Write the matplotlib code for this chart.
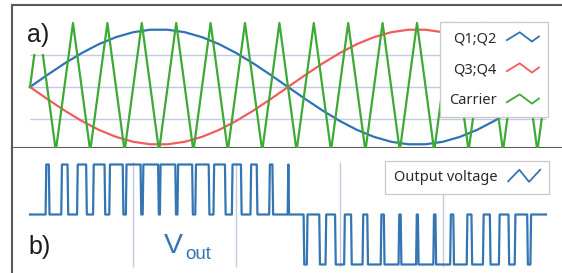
import matplotlib
matplotlib.use("Agg")
import matplotlib.pyplot as plt
from matplotlib.legend_handler import HandlerLine2D
from matplotlib.lines import Line2D

# ---------------- data (time in carrier periods; one modulation period = 15) ----------------
t_mod = [0.0, 0.5, 1.0, 1.5, 2.0, 2.5, 3.0, 3.5, 4.0, 4.5, 5.0, 5.5, 6.0, 6.5, 7.0, 7.5,
         8.0, 8.5, 9.0, 9.5, 10.0, 10.5, 11.0, 11.5, 12.0, 12.5, 13.0, 13.5, 14.0, 14.5, 15.0]
q12 = [0.0, 0.187, 0.366, 0.529, 0.669, 0.779, 0.856, 0.895, 0.895, 0.856, 0.779, 0.669, 0.529,
       0.366, 0.187, 0.0, -0.187, -0.366, -0.529, -0.669, -0.779, -0.856, -0.895, -0.895, -0.856,
       -0.779, -0.669, -0.529, -0.366, -0.187, 0.0]
q34 = [0.0, -0.187, -0.366, -0.529, -0.669, -0.779, -0.856, -0.895, -0.895, -0.856, -0.779, -0.669,
       -0.529, -0.366, -0.187, 0.0, 0.187, 0.366, 0.529, 0.669, 0.779, 0.856, 0.895, 0.895, 0.856,
       0.779, 0.669, 0.529, 0.366, 0.187, 0.0]
carrier_t = [0.0, 0.25, 0.75, 1.25, 1.75, 2.25, 2.75, 3.25, 3.75, 4.25, 4.75, 5.25, 5.75, 6.25,
             6.75, 7.25, 7.75, 8.25, 8.75, 9.25, 9.75, 10.25, 10.75, 11.25, 11.75, 12.25, 12.75,
             13.25, 13.75, 14.25, 14.75, 15.0]
carrier_v = [0, 1, -1, 1, -1, 1, -1, 1, -1, 1, -1, 1, -1, 1, -1, 1,
             -1, 1, -1, 1, -1, 1, -1, 1, -1, 1, -1, 1, -1, 1, -1, 0]
# output voltage pulses (switching instants)
pos_start = [0.453, 0.909, 1.368, 1.833, 2.305, 2.786, 3.276, 3.776, 4.286, 4.805, 5.333, 5.868,
             6.409, 6.953, 7.49]
pos_end = [0.547, 1.091, 1.632, 2.167, 2.695, 3.214, 3.724, 4.224, 4.714, 5.195, 5.667, 6.132,
           6.591, 7.047, 7.51]
neg_start = [7.953, 8.409, 8.868, 9.333, 9.805, 10.286, 10.776, 11.276, 11.786, 12.305, 12.833,
             13.368, 13.909, 14.453]
neg_end = [8.047, 8.591, 9.132, 9.667, 10.195, 10.714, 11.224, 11.724, 12.214, 12.695, 13.167,
           13.632, 14.091, 14.547]
t_end = 15.0
hgrid_levels = [-0.5, 0.0, 0.5]
vgrid_t = [3, 6, 9, 12]
labels_top = ["Q1;Q2", "Q3;Q4", "Carrier"]
label_bottom = "Output voltage"

# ---------------- styling ----------------
BLUE = "#2f72b6"
RED = "#f25c5c"
GREEN = "#3caa34"
OUTBLUE = "#3475b4"
GRID = "#c6c9e2"
SPINE = "#5a5a5a"
W, H = 562, 273
X0, PXU = 30.0, 34.4  # pixel of t=0, pixels per unit

fig = plt.figure(figsize=(W / 100, H / 100), dpi=100)


def px_axes(l, t, r, b):
    return fig.add_axes([l / W, 1 - b / H, (r - l) / W, (b - t) / H])


xl = ((12 - X0) / PXU, (580 - X0) / PXU)

ax1 = px_axes(12, 5, 580, 148)
ax2 = px_axes(12, 148, 580, 300)
for ax in (ax1, ax2):
    ax.set_xlim(*xl)
    ax.set_xticks([])
    ax.set_yticks([])
    for s in ax.spines.values():
        s.set_color(SPINE)
        s.set_linewidth(1.5)
    ax.spines["right"].set_visible(False)
ax1.set_ylim(-(148 - 87) / 64, (87 - 5) / 64)
ax2.set_ylim(-(300 - 214.5) / 50, (214.5 - 148) / 50)
ax2.spines["top"].set_visible(False)
ax2.spines["bottom"].set_visible(False)

# top panel
ax1.hlines(hgrid_levels, 0, t_end, color=GRID, lw=1.0, zorder=1)
l1, = ax1.plot(t_mod, q12, color=BLUE, lw=1.6, zorder=2)
l2, = ax1.plot(t_mod, q34, color=RED, lw=1.6, zorder=2)
l3, = ax1.plot(carrier_t, carrier_v, color=GREEN, lw=1.6, zorder=3)


class ZigZag(HandlerLine2D):
    def __init__(self, xs, ys, **kw):
        super().__init__(**kw)
        self.xs, self.ys = xs, ys

    def create_artists(self, legend, orig_handle, xdescent, ydescent, width, height,
                       fontsize, trans):
        x = [-xdescent + width * v for v in self.xs]
        y = [-ydescent + height * v for v in self.ys]
        line = Line2D(x, y)
        self.update_prop(line, orig_handle, legend)
        line.set_linewidth(1.3)
        line.set_transform(trans)
        return [line]


zz_top = ZigZag([0, 0.4, 0.78, 1.0], [0.15, 1.0, 0.0, 0.55])
leg1 = ax1.legend([l1, l2, l3], labels_top, handler_map={Line2D: zz_top},
                  loc="upper right", bbox_to_anchor=(548 / W, 1 - 22 / H),
                  bbox_transform=fig.transFigure, borderaxespad=0, markerfirst=False,
                  fancybox=False, framealpha=1, edgecolor="#c8c8c8",
                  prop={"family": "Noto Sans", "size": 10.5},
                  handlelength=2.2, handleheight=0.6, handletextpad=0.7,
                  labelspacing=1.1, borderpad=0.62)
leg1.get_frame().set_linewidth(0.9)
for tx in leg1.get_texts():
    tx.set_color("#2a2a2a")

fig.text(27 / W, 1 - 42 / H, "a)", ha="left", va="baseline", fontsize=18,
         family="Liberation Sans", color="#1c1c1c", zorder=10,
         bbox=dict(facecolor="white", edgecolor="none", pad=5))

# bottom panel
ax2.vlines(vgrid_t, -1.05, 1.05, color=GRID, lw=1.0, zorder=1)
rise = 0.02
xs, ys = [0.0], [0.0]
events = [(s, e, 1) for s, e in zip(pos_start, pos_end)] + \
         [(s, e, -1) for s, e in zip(neg_start, neg_end)]
for s, e, lv in sorted(events):
    xs += [s, s + rise, e, e + rise]
    ys += [0, lv, lv, 0]
xs.append(t_end)
ys.append(0.0)
l4, = ax2.plot(xs, ys, color=OUTBLUE, lw=1.6, zorder=2)

zz_bot = ZigZag([0, 0.35, 0.65, 1.0], [0.05, 1.0, 0.0, 1.0])
leg2 = ax2.legend([l4], [label_bottom], handler_map={Line2D: zz_bot},
                  loc="upper right", bbox_to_anchor=(549 / W, 1 - 161 / H),
                  bbox_transform=fig.transFigure, borderaxespad=0, markerfirst=False,
                  fancybox=False, framealpha=1, edgecolor="#c8c8c8",
                  prop={"family": "Noto Sans", "size": 10.5},
                  handlelength=2.2, handleheight=0.9, handletextpad=0.75,
                  borderpad=0.6)
leg2.get_frame().set_linewidth(0.9)
for tx in leg2.get_texts():
    tx.set_color("#2a2a2a")

fig.text(28 / W, 1 - 254 / H, "b)", ha="left", va="baseline", fontsize=18,
         family="Liberation Sans", color="#1c1c1c")
fig.text(164 / W, 1 - 253 / H, "V", ha="left", va="baseline", fontsize=20.5,
         family="Liberation Sans", color=OUTBLUE)
fig.text(185.5 / W, 1 - 259 / H, "out", ha="left", va="baseline", fontsize=13.5,
         family="Liberation Sans", color=OUTBLUE)

fig.savefig("out.png", dpi=100)
